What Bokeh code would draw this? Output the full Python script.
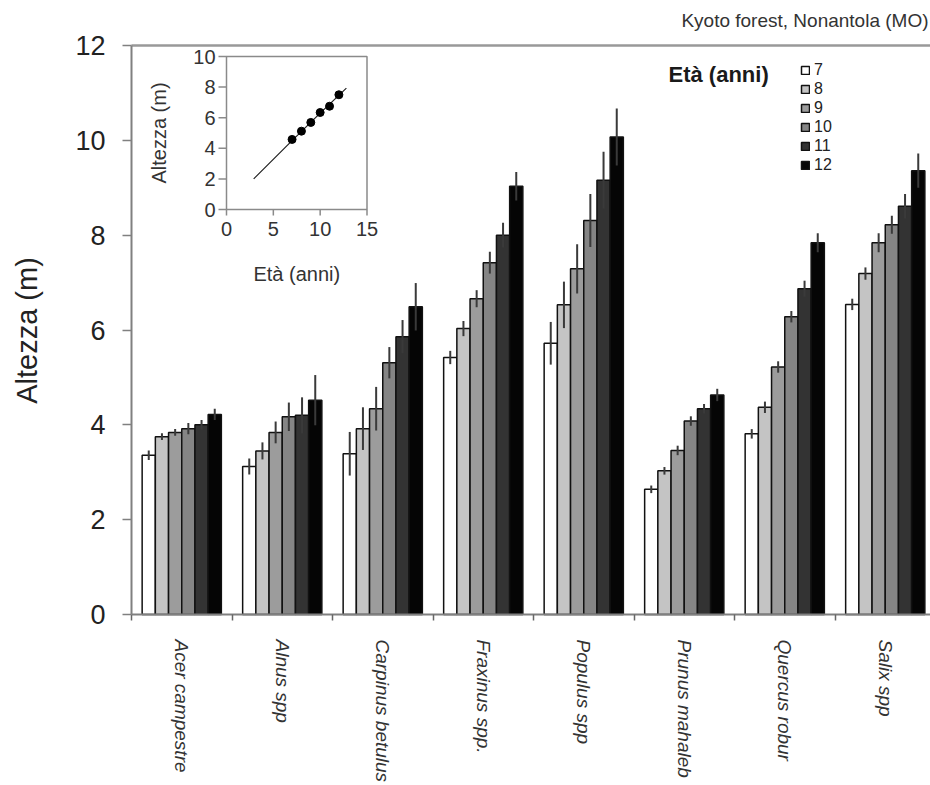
import math
from bokeh.plotting import figure
from bokeh.models import (Range1d, FixedTicker, ColumnDataSource, Legend,
                          LegendItem, Label)
from bokeh.core.properties import value
from bokeh.embed import file_html
from bokeh.resources import INLINE

# ---------------- data ----------------
species = ["Acer campestre", "Alnus spp", "Carpinus betulus", "Fraxinus spp.",
           "Populus spp", "Prunus mahaleb", "Quercus robur", "Salix spp"]
ages = [7, 8, 9, 10, 11, 12]

h7 = [3.36, 3.12, 3.39, 5.42, 5.72, 2.64, 3.81, 6.54]
h8 = [3.75, 3.45, 3.92, 6.03, 6.53, 3.03, 4.37, 7.19]
h9 = [3.84, 3.84, 4.34, 6.66, 7.29, 3.46, 5.22, 7.84]
h10 = [3.92, 4.17, 5.31, 7.42, 8.31, 4.08, 6.28, 8.22]
h11 = [4.00, 4.20, 5.86, 8.00, 9.16, 4.34, 6.87, 8.61]
h12 = [4.22, 4.52, 6.49, 9.03, 10.07, 4.63, 7.84, 9.36]

e7 = [0.10, 0.17, 0.46, 0.14, 0.45, 0.08, 0.10, 0.12]
e8 = [0.07, 0.18, 0.45, 0.16, 0.49, 0.08, 0.12, 0.13]
e9 = [0.07, 0.23, 0.46, 0.18, 0.52, 0.10, 0.12, 0.20]
e10 = [0.12, 0.30, 0.33, 0.23, 0.56, 0.10, 0.12, 0.19]
e11 = [0.10, 0.38, 0.35, 0.26, 0.60, 0.10, 0.17, 0.26]
e12 = [0.12, 0.53, 0.50, 0.30, 0.60, 0.13, 0.20, 0.36]

y_ticks = [0, 2, 4, 6, 8, 10, 12]

# inset: mean height vs age
inset_ages = [7, 8, 9, 10, 11, 12]
inset_height = [4.58, 5.12, 5.69, 6.34, 6.75, 7.50]
inset_fit_x = [2.9, 7.0, 10.0, 12.8]
inset_fit_y = [2.0, 4.5, 6.3, 7.93]
inset_x_ticks = [0, 5, 10, 15]
inset_y_ticks = [0, 2, 4, 6, 8, 10]

title_text = "Kyoto forest, Nonantola (MO)"
y_label = "Altezza (m)"
legend_title = "Età (anni)"
inset_x_label = "Età (anni)"
inset_y_label = "Altezza (m)"

# ---------------- styles / layout ----------------
colors = ["#ffffff", "#c4c4c4", "#9c9c9c", "#858585", "#333333", "#050505"]
FONT = "Liberation Sans"
TXT = "#222222"
AX = "#808080"

W, H = 930, 785
AXIS_X, AXIS_Y = 131, 614       # pixel column of the y axis, pixel row of the x axis
TOP_Y = 45                      # pixel row of the value 12 (top rule)
CAT_PX = 100.5
n = len(species)
y_max = y_ticks[-1]
px_y = (AXIS_Y - TOP_Y) / y_max
x_start = -AXIS_X / CAT_PX
x_end = (W - AXIS_X) / CAT_PX
y_start = -(H - AXIS_Y) / px_y
y_end = y_max + TOP_Y / px_y
bar_w = 13.2 / CAT_PX

def data_x(px):
    return (px - AXIS_X) / CAT_PX

def data_y(py):
    return (AXIS_Y - py) / px_y

p = figure(width=W, height=H, x_range=Range1d(x_start, x_end), y_range=Range1d(y_start, y_end),
           output_backend="svg", toolbar_location=None,
           min_border_left=0, min_border_right=0, min_border_top=0, min_border_bottom=0)
p.outline_line_color = None
p.xgrid.visible = False
p.ygrid.visible = False
p.background_fill_color = "white"

# title
p.add_layout(Label(x=data_x(928), y=data_y(20), text=title_text,
                   text_font=FONT, text_font_size="19px", text_color="#333333",
                   text_align="right", text_baseline="middle"))

# top rule at 12
p.segment(x0=[0], x1=[x_end], y0=[y_max], y1=[y_max], line_color="#999999", line_width=2.5)

# y axis, fixed at x = 0 of the category scale
ya = p.yaxis[0]
ya.fixed_location = 0
ya.ticker = FixedTicker(ticks=y_ticks)
ya.bounds = (y_ticks[0], y_max)
ya.major_label_text_font = FONT
ya.major_label_text_font_size = "27px"
ya.major_label_text_color = TXT
ya.major_label_standoff = 17
ya.axis_line_color = AX
ya.axis_line_width = 2
ya.major_tick_line_color = AX
ya.major_tick_line_width = 1.5
ya.major_tick_out = 9
ya.major_tick_in = 0
ya.minor_tick_line_color = None

p.add_layout(Label(x=data_x(26), y=data_y(330), text=y_label, angle=math.pi / 2,
                   text_font=FONT, text_font_size="29px", text_color=TXT,
                   text_align="center", text_baseline="middle"))

# x axis fixed at height 0: labels at category centres, ticks at the boundaries
xa = p.xaxis[0]
xa.fixed_location = 0
centres = [j + 0.5 for j in range(n)]
xa.ticker = FixedTicker(ticks=centres, minor_ticks=list(range(n + 1)))
xa.bounds = (0, x_end)
xa.major_label_overrides = {c: s for c, s in zip(centres, species)}
xa.major_label_orientation = "vertical"
xa.major_label_text_font = FONT
xa.major_label_text_font_size = "19px"
xa.major_label_text_font_style = "italic"
xa.major_label_text_color = "#333333"
xa.major_label_standoff = 19
xa.axis_line_color = AX
xa.axis_line_width = 2
xa.major_tick_line_color = None
xa.major_tick_out = 0
xa.major_tick_in = 0
xa.minor_tick_line_color = "#666666"
xa.minor_tick_line_width = 1.5
xa.minor_tick_out = 6
xa.minor_tick_in = 0

# bars
series_h = [h7, h8, h9, h10, h11, h12]
series_e = [e7, e8, e9, e10, e11, e12]
renderers = []
err_sources = []
for i, (age, hs, es) in enumerate(zip(ages, series_h, series_e)):
    xs = [j + 0.5 + (i - 2.5) * bar_w for j in range(n)]
    src = ColumnDataSource(dict(x=xs, top=hs,
                                lo=[h - e for h, e in zip(hs, es)],
                                hi=[h + e for h, e in zip(hs, es)]))
    r = p.vbar(x="x", top="top", bottom=0, width=bar_w, source=src,
               fill_color=colors[i], line_color="#111111", line_width=1.5)
    renderers.append(r)
    err_sources.append(src)
for src in err_sources:
    p.segment(x0="x", y0="lo", x1="x", y1="hi", source=src,
              line_color="#3a3a3a", line_width=2)

# legend
legend = Legend(items=[LegendItem(label=str(a), renderers=[r]) for a, r in zip(ages, renderers)],
                location=(800, H - 174))
legend.label_text_font = FONT
legend.label_text_font_size = "16px"
legend.label_text_color = TXT
legend.label_height = 19
legend.glyph_height = 10
legend.glyph_width = 10
legend.label_standoff = 4
legend.spacing = 0
legend.padding = 0
legend.margin = 0
legend.border_line_color = None
legend.background_fill_alpha = 0
p.add_layout(legend)

p.add_layout(Label(x=data_x(668), y=data_y(74), text=legend_title,
                   text_font=FONT, text_font_size="22px", text_font_style="bold",
                   text_color="#1a1a1a", text_baseline="middle", text_align="left"))

# ---------------- inset (own scales mapped into a sub box) ----------------
IN_L, IN_R, IN_T, IN_B = 226, 366.5, 56, 209
ipx = (IN_R - IN_L) / (inset_x_ticks[-1] - inset_x_ticks[0])
ipy = (IN_B - IN_T) / (inset_y_ticks[-1] - inset_y_ticks[0])
x0i, x1i = inset_x_ticks[0], inset_x_ticks[-1]
y0i, y1i = inset_y_ticks[0], inset_y_ticks[-1]
p.extra_x_ranges = {"ix": Range1d(x0i - IN_L / ipx, x1i + (W - IN_R) / ipx)}
p.extra_y_ranges = {"iy": Range1d(y0i - (H - IN_B) / ipy, y1i + IN_T / ipy)}
kw = dict(x_range_name="ix", y_range_name="iy")

p.quad(left=[x0i], right=[x1i], bottom=[y0i], top=[y1i], fill_color="white",
       line_color="#8a8a8a", line_width=1.5, **kw)
# ticks
p.segment(x0=[x0i] * len(inset_y_ticks), x1=[x0i - 8 / ipx] * len(inset_y_ticks),
          y0=inset_y_ticks, y1=inset_y_ticks, line_color="#8a8a8a", line_width=1.5, **kw)
p.segment(x0=inset_x_ticks, x1=inset_x_ticks, y0=[y0i] * len(inset_x_ticks),
          y1=[y0i - 6 / ipy] * len(inset_x_ticks), line_color="#8a8a8a", line_width=1.5, **kw)
# tick labels
p.text(x=[x0i - 11 / ipx] * len(inset_y_ticks), y=inset_y_ticks,
       text=[str(t) for t in inset_y_ticks], text_align="right", text_baseline="middle",
       text_font=value(FONT), text_font_size="20px", text_color="#333333", **kw)
p.text(x=inset_x_ticks, y=[y0i - 12 / ipy] * len(inset_x_ticks),
       text=[str(t) for t in inset_x_ticks], text_align="center", text_baseline="top",
       text_font=value(FONT), text_font_size="20px", text_color="#333333", **kw)
p.text(x=[(x0i + x1i) / 2], y=[y0i - 64 / ipy], text=[inset_x_label],
       text_align="center", text_baseline="middle",
       text_font=value(FONT), text_font_size="20px", text_color="#333333", **kw)
p.text(x=[x0i - 68 / ipx], y=[(y0i + y1i) / 2], text=[inset_y_label], angle=math.pi / 2,
       text_align="center", text_baseline="middle",
       text_font=value(FONT), text_font_size="20px", text_color="#333333", **kw)
# fit line and points
p.line(x=inset_fit_x, y=inset_fit_y, line_color="#222222", line_width=1.2, **kw)
p.scatter(x=inset_ages, y=inset_height, size=8, fill_color="black", line_color="black", **kw)

open("out.html", "w").write(file_html(p, INLINE))
